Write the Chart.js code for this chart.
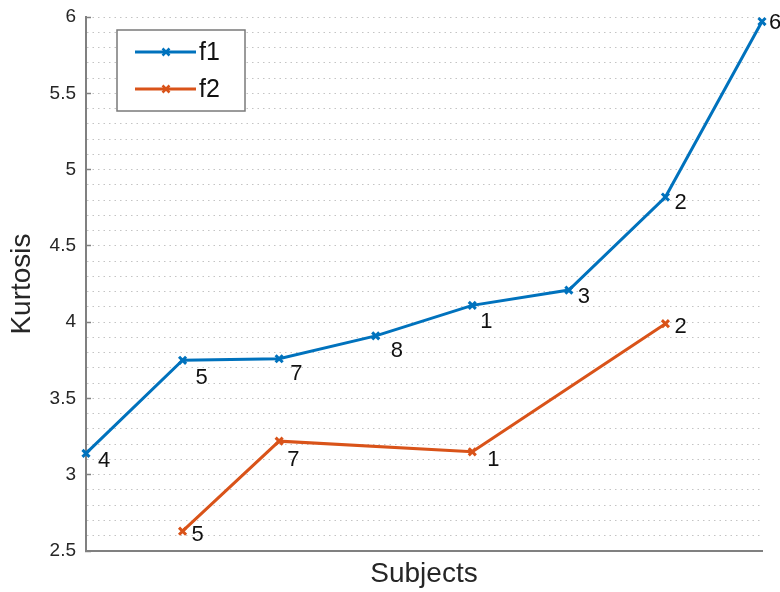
<!DOCTYPE html>
<html>
<head>
<meta charset="utf-8">
<script src="https://cdn.jsdelivr.net/npm/chart.js@4.4.1/dist/chart.umd.min.js"></script>
<style>
html,body{margin:0;padding:0;background:#fff;}
#wrap{width:780px;height:592px;position:relative;}
</style>
</head>
<body>
<div id="wrap"><canvas id="c" width="780" height="592"></canvas></div>
<script>
// ---- data ----
const categories = ['1','2','3','4','5','6','7','8'];
const f1Values = [3.14, 3.75, 3.76, 3.91, 4.11, 4.21, 4.82, 5.97];
const f1Subjects = ['4','5','7','8','1','3','2','6'];
const f2Values = [null, 2.63, 3.22, null, 3.15, null, 3.99, null];
const f2Subjects = [null,'5','7',null,'1',null,'2',null];
const seriesNames = ['f1','f2'];
const yMin = 2.5, yMax = 6, yMinorStep = 0.1, yMajorStep = 0.5;

// ---- style: pixel offsets of the subject labels from their points ----
const labelOffsets = [
  [[12,8],[13,18],[11,15],[15,15],[8,17],[9,7],[9,6],[7,1]],
  [null,[9,4],[8,19],null,[15,8],null,[9,3],null]
];

const BLUE = '#0072BD', ORANGE = '#D95319';
const FONT = '"Liberation Sans", Arial, sans-serif';

const pointLabels = {
  id: 'pointLabels',
  afterDatasetsDraw(chart) {
    const ctx = chart.ctx;
    const labelSets = [f1Subjects, f2Subjects];
    ctx.save();
    ctx.font = '22px ' + FONT;
    ctx.fillStyle = '#111';
    ctx.textAlign = 'left';
    ctx.textBaseline = 'middle';
    chart.data.datasets.forEach((ds, i) => {
      const meta = chart.getDatasetMeta(i);
      meta.data.forEach((pt, j) => {
        const t = labelSets[i][j];
        if (t == null || ds.data[j] == null) return;
        const off = labelOffsets[i][j] || [10, 8];
        ctx.fillText(t, pt.x + off[0], pt.y + off[1]);
      });
    });
    ctx.restore();
  }
};

const boxLegend = {
  id: 'boxLegend',
  afterDraw(chart) {
    const ctx = chart.ctx;
    const x0 = 117, y0 = 30, w = 128, h = 81;
    ctx.save();
    ctx.fillStyle = '#fff';
    ctx.fillRect(x0, y0, w, h);
    ctx.strokeStyle = '#7a7a7a';
    ctx.lineWidth = 1.5;
    ctx.strokeRect(x0, y0, w, h);
    chart.data.datasets.forEach((ds, i) => {
      const y = y0 + 22 + i * 37;
      ctx.strokeStyle = ds.borderColor;
      ctx.lineWidth = 3;
      ctx.beginPath();
      ctx.moveTo(x0 + 18, y); ctx.lineTo(x0 + 79, y); ctx.stroke();
      const mx = x0 + 49, r = 3.5;
      ctx.lineWidth = 2.5;
      ctx.beginPath();
      ctx.moveTo(mx - r, y - r); ctx.lineTo(mx + r, y + r);
      ctx.moveTo(mx + r, y - r); ctx.lineTo(mx - r, y + r);
      ctx.stroke();
      ctx.fillStyle = '#111';
      ctx.font = '25px ' + FONT;
      ctx.textBaseline = 'middle';
      ctx.textAlign = 'left';
      ctx.fillText(ds.label, x0 + 82, y + 1);
    });
    ctx.restore();
  }
};

function isMajor(v) {
  return Math.round(v * 10) % Math.round(yMajorStep * 10) === 0;
}

new Chart(document.getElementById('c'), {
  type: 'line',
  data: {
    labels: categories,
    datasets: [
      { label: seriesNames[0], data: f1Values, borderColor: BLUE, backgroundColor: BLUE,
        borderWidth: 3, pointStyle: 'crossRot', pointRadius: 5, pointBorderWidth: 3,
        pointBorderColor: BLUE, tension: 0, clip: false },
      { label: seriesNames[1], data: f2Values, borderColor: ORANGE, backgroundColor: ORANGE,
        borderWidth: 3, pointStyle: 'crossRot', pointRadius: 5, pointBorderWidth: 3,
        pointBorderColor: ORANGE, tension: 0, spanGaps: true, clip: false }
    ]
  },
  options: {
    responsive: false,
    animation: false,
    events: [],
    layout: { padding: { top: 17, right: 18, left: 0, bottom: 0 } },
    plugins: { legend: { display: false }, tooltip: { enabled: false } },
    scales: {
      x: {
        offset: false,
        grid: { display: false, drawTicks: false },
        border: { display: true, color: '#808080', width: 2 },
        ticks: { display: false },
        title: { display: true, text: 'Subjects', color: '#262626',
                 font: { family: FONT, size: 28 }, padding: { top: 0, bottom: 1 } },
        afterFit(s) { s.height = 41; s.paddingLeft = 0; s.paddingRight = 0; }
      },
      y: {
        min: yMin, max: yMax,
        grid: {
          color: '#c4c4c4', lineWidth: 1,
          drawTicks: true, tickLength: -5, tickWidth: 1.5, tickBorderDash: [],
          tickColor: (c) => (c.tick && isMajor(c.tick.value)) ? '#808080' : 'rgba(0,0,0,0)'
        },
        border: { display: true, color: '#808080', width: 2, dash: [1.5, 4] },
        ticks: {
          stepSize: yMinorStep, autoSkip: false, padding: 15, color: '#262626',
          font: { family: FONT, size: 19 },
          callback(v) { return isMajor(v) ? String(Math.round(v * 10) / 10) : ''; }
        },
        title: { display: true, text: 'Kurtosis', color: '#262626',
                 font: { family: FONT, size: 28 }, padding: { top: 5, bottom: 0 } },
        afterFit(s) { s.width = 86; s.paddingTop = 0; s.paddingBottom = 0; }
      }
    }
  },
  plugins: [pointLabels, boxLegend]
});
</script>
</body>
</html>
